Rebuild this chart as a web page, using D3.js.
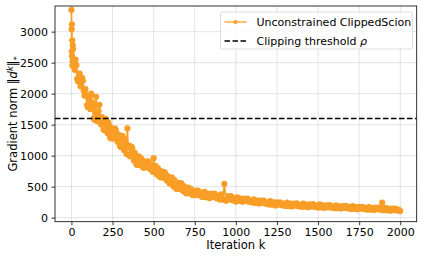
<!DOCTYPE html>
<html>
<head>
<meta charset="utf-8">
<script src="https://cdn.jsdelivr.net/npm/d3@7"></script>
<style>
  body { margin: 0; background: #fff; }
  svg { font-family: "DejaVu Sans", sans-serif; }
</style>
</head>
<body>
<svg></svg>
<script>
// размеры
const width = 429;
const height = 257;

// данные
// первые итерации идут плотно, дальше шаг 10 (+ промежуточные точки до 800)
const earlyIters = [0, 1, 2, 3, 4, 5, 6, 7, 8, 9];
const earlyNorms = [3350, 3040, 2680, 3120, 2600, 2860, 2450, 2520, 2780, 2470];
const laterIters = d3.range(10, 2001, 10);
const laterNorms = [
  2720, 2384, 2460, 2200, 2324, 2122, 2208, 1968, 1984, 1782,
  1945, 2000, 1790, 1580, 1950, 1576, 1820, 1504, 1562, 1411,
  1590, 1362, 1475, 1280, 1442, 1296, 1414, 1224, 1287, 1141,
  1320, 1092, 1205, 1440, 1162, 1006, 1119, 924, 992, 851,
  990, 848, 918, 805, 906, 824, 894, 781, 818, 960,
  835, 698, 768, 655, 746, 654, 719, 601, 638, 552,
  650, 508, 578, 465, 561, 474, 544, 431, 473, 392,
  485, 394, 443, 365, 434, 377, 431, 358, 389, 335,
  416, 331, 386, 314, 387, 333, 388, 316, 348, 295,
  376, 291, 545, 274, 347, 294, 349, 279, 312, 260,
  327, 270, 306, 258, 306, 270, 306, 258, 279, 243,
  297, 240, 276, 228, 276, 240, 276, 228, 249, 213,
  267, 210, 246, 198, 246, 211, 248, 201, 223, 188,
  242, 190, 225, 181, 228, 195, 230, 186, 208, 175,
  227, 176, 211, 168, 215, 183, 217, 174, 195, 163,
  213, 165, 198, 158, 200, 171, 202, 162, 181, 152,
  199, 153, 184, 146, 187, 159, 189, 151, 169, 141,
  186, 142, 172, 135, 175, 146, 176, 139, 157, 129,
  172, 130, 158, 123, 161, 135, 163, 128, 245, 120,
  160, 119, 146, 112, 147, 122, 148, 115, 130, 106
];
const midIters = d3.range(15, 800, 10);
const midNorms = [
  2480, 2548, 2240, 2316, 2121, 2255, 2046, 2072, 1817, 1908,
  1753, 1859, 1602, 1703, 1558, 1715, 1558, 1621, 1426, 1539,
  1410, 1534, 1295, 1411, 1275, 1438, 1281, 1344, 1153, 1269,
  1140, 1264, 1025, 1133, 991, 1145, 983, 1046, 861,
  967, 879, 951, 813, 885, 809, 907, 815, 851, 739,
  806, 727, 801, 663, 730, 644, 735, 637, 671, 559,
  624, 539, 611, 473, 542, 462, 557, 465, 504, 396,
  463, 412, 466, 370, 420, 366, 437, 378, 409, 336
];
const threshold = 1600;

const xTicks = [0, 250, 500, 750, 1000, 1250, 1500, 1750, 2000];
const yTicks = [0, 500, 1000, 1500, 2000, 2500, 3000];
const seriesName = "Unconstrained ClippedScion";
const thresholdName = "Clipping threshold ";

const data = earlyIters.map((k, i) => ({k: k, v: earlyNorms[i]}))
  .concat(laterIters.map((k, i) => ({k: k, v: laterNorms[i]})))
  .concat(midIters.map((k, i) => ({k: k, v: midNorms[i]})))
  .sort((a, b) => a.k - b.k);

const orange = "#f89e27";

let svg = d3.select("svg")
    .attr("width", width)
    .attr("height", height);

const margin = {left: 55, right: 12.3, top: 6, bottom: 35.3};
const x = d3.scaleLinear().domain([-100, 2100]).range([margin.left, width - margin.right]);
const y = d3.scaleLinear().domain([-65, 3414]).range([height - margin.bottom, margin.top]);

// сетка
let grid = svg.append("g").style("stroke", "#dcdcdc").style("stroke-width", 0.8);
grid.selectAll("line.gx").data(xTicks).enter().append("line")
    .attr("x1", d => x(d)).attr("x2", d => x(d))
    .attr("y1", margin.top).attr("y2", height - margin.bottom);
grid.selectAll("line.gy").data(yTicks).enter().append("line")
    .attr("x1", margin.left).attr("x2", width - margin.right)
    .attr("y1", d => y(d)).attr("y2", d => y(d));

// оси
let xAxis = svg.append("g")
    .attr("transform", `translate(0, ${height - margin.bottom})`)
    .call(d3.axisBottom(x).tickValues(xTicks).tickSize(3.5).tickPadding(3).tickFormat(d3.format("d")));
let yAxis = svg.append("g")
    .attr("transform", `translate(${margin.left}, 0)`)
    .call(d3.axisLeft(y).tickValues(yTicks).tickSize(3.5).tickPadding(3.5).tickFormat(d3.format("d")));
[xAxis, yAxis].forEach(a => {
  a.select(".domain").remove();
  a.selectAll("text").style("font-size", "11px").style("fill", "#000")
   .style("font-family", "DejaVu Sans, sans-serif");
  a.selectAll("line").style("stroke", "#000").style("stroke-width", 0.8);
});

// данные: линия с точками
svg.append("clipPath").attr("id", "plotclip")
  .append("rect").attr("x", margin.left).attr("y", margin.top)
  .attr("width", width - margin.left - margin.right)
  .attr("height", height - margin.top - margin.bottom);

let plot = svg.append("g").attr("clip-path", "url(#plotclip)");
const line = d3.line().x(d => x(d.k)).y(d => y(d.v));
plot.append("path")
    .attr("d", line(data))
    .style("fill", "none")
    .style("stroke", orange)
    .style("stroke-width", 1.7);
plot.selectAll("circle").data(data).enter().append("circle")
    .attr("cx", d => x(d.k))
    .attr("cy", d => y(d.v))
    .attr("r", 3.1)
    .style("fill", orange);

// порог
plot.append("line")
    .attr("x1", margin.left).attr("x2", width - margin.right)
    .attr("y1", y(threshold)).attr("y2", y(threshold))
    .style("stroke", "#000")
    .style("stroke-width", 1.6)
    .style("stroke-dasharray", "5.5,2.5");

// рамка
svg.append("rect")
    .attr("x", margin.left).attr("y", margin.top)
    .attr("width", width - margin.left - margin.right)
    .attr("height", height - margin.top - margin.bottom)
    .style("fill", "none").style("stroke", "#000").style("stroke-width", 0.8);

// подписи осей
svg.append("text")
    .attr("x", (margin.left + width - margin.right) / 2)
    .attr("y", 248.5)
    .attr("text-anchor", "middle")
    .style("font-size", "11.5px")
    .text("Iteration k");

let ylab = svg.append("text")
    .attr("transform", `translate(17, ${(margin.top + height - margin.bottom) / 2}) rotate(-90)`)
    .attr("text-anchor", "middle")
    .style("font-size", "11.5px");
ylab.append("tspan").text("Gradient norm \u2016");
ylab.append("tspan").style("font-style", "italic").text("d");
ylab.append("tspan").style("font-style", "italic").style("font-size", "8.5px").attr("dy", -4.5).text("k");
ylab.append("tspan").attr("dy", 4.5).text("\u2016");
ylab.append("tspan").style("font-size", "8.5px").attr("dy", 3).text("*");

// легенда
let legend = svg.append("g");
legend.append("rect")
    .attr("x", 220.5).attr("y", 12).attr("width", 192).attr("height", 37)
    .attr("rx", 2)
    .style("fill", "#fff").style("fill-opacity", 0.8)
    .style("stroke", "#d6d6d6").style("stroke-width", 0.8);
legend.append("line")
    .attr("x1", 224.5).attr("x2", 246.5).attr("y1", 22).attr("y2", 22)
    .style("stroke", orange).style("stroke-width", 1.3);
legend.append("circle").attr("cx", 235.5).attr("cy", 22).attr("r", 2).style("fill", orange);
legend.append("text").attr("x", 256.5).attr("y", 26).style("font-size", "11px").text(seriesName);
legend.append("line")
    .attr("x1", 224.5).attr("x2", 246.5).attr("y1", 41).attr("y2", 41)
    .style("stroke", "#000").style("stroke-width", 1.6).style("stroke-dasharray", "5.5,2.5");
let t2 = legend.append("text").attr("x", 256.5).attr("y", 45).style("font-size", "11px");
t2.append("tspan").text(thresholdName);
t2.append("tspan").style("font-style", "italic").text("\u03c1");
</script>
</body>
</html>
